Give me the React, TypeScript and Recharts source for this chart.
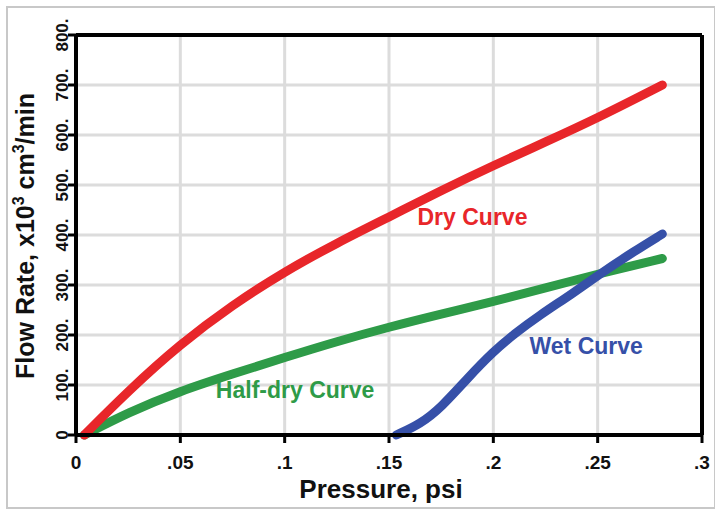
import React from "react";
import {
  LineChart,
  Line,
  XAxis,
  YAxis,
  CartesianGrid,
  ReferenceLine,
  ReferenceDot,
  Label,
} from "recharts";

const xTicks = [0, 0.05, 0.1, 0.15, 0.2, 0.25, 0.3];
const xTickLabels = ["0", ".05", ".1", ".15", ".2", ".25", ".3"];
const yTicks = [0, 100, 200, 300, 400, 500, 600, 700, 800];
const yTickLabels = ["0", "100.", "200.", "300.", "400.", "500.", "600.", "700.", "800."];

const dryCurve = [
  { p: 0.004, q: 0 },
  { p: 0.025, q: 88 },
  { p: 0.05, q: 182 },
  { p: 0.075, q: 260 },
  { p: 0.1, q: 327 },
  { p: 0.125, q: 384 },
  { p: 0.15, q: 436 },
  { p: 0.175, q: 489 },
  { p: 0.2, q: 539 },
  { p: 0.225, q: 586 },
  { p: 0.25, q: 634 },
  { p: 0.281, q: 700 },
];

const halfDryCurve = [
  { p: 0.004, q: 0 },
  { p: 0.025, q: 45 },
  { p: 0.05, q: 88 },
  { p: 0.075, q: 122 },
  { p: 0.1, q: 155 },
  { p: 0.125, q: 187 },
  { p: 0.15, q: 216 },
  { p: 0.175, q: 242 },
  { p: 0.2, q: 267 },
  { p: 0.225, q: 294 },
  { p: 0.25, q: 322 },
  { p: 0.281, q: 353 },
];

const wetCurve = [
  { p: 0.1535, q: 0 },
  { p: 0.165, q: 22 },
  { p: 0.175, q: 55 },
  { p: 0.1875, q: 113 },
  { p: 0.2, q: 167 },
  { p: 0.21, q: 202 },
  { p: 0.222, q: 239 },
  { p: 0.238, q: 283 },
  { p: 0.251, q: 322 },
  { p: 0.267, q: 366 },
  { p: 0.281, q: 402 },
];

const RED = "#e8262a";
const GREEN = "#2e9b48";
const BLUE = "#3650a8";
const FONT = "'Liberation Sans', Arial, sans-serif";

const XTick = ({ x, y, payload }: any) => {
  const i = xTicks.indexOf(payload.value);
  return (
    <text x={x} y={y + 24} textAnchor="middle" fontFamily={FONT} fontWeight="bold" fontSize={19} fill="#111">
      {xTickLabels[i]}
    </text>
  );
};

const YTick = ({ x, y, payload }: any) => {
  const i = yTicks.indexOf(payload.value);
  const bx = x + 2;
  return (
    <text
      x={bx}
      y={y}
      transform={`rotate(-90, ${bx}, ${y})`}
      textAnchor="middle"
      fontFamily={FONT}
      fontWeight="bold"
      fontSize={17}
      fill="#111"
    >
      {yTickLabels[i]}
    </text>
  );
};

const YTitle = ({ viewBox }: any) => {
  const cx = 34;
  const cy = viewBox.y + viewBox.height / 2 + 1;
  return (
    <text
      x={cx}
      y={cy}
      transform={`rotate(-90, ${cx}, ${cy})`}
      textAnchor="middle"
      fontFamily={FONT}
      fontWeight="bold"
      fontSize={25}
      fill="#111"
    >
      <tspan>Flow Rate, x10</tspan>
      <tspan dy={-10} fontSize={16}>3</tspan>
      <tspan dy={10}> cm</tspan>
      <tspan dy={-10} fontSize={16}>3</tspan>
      <tspan dy={10}>/min</tspan>
    </text>
  );
};

const labelStyle = { fontFamily: FONT, fontWeight: "bold", fontSize: 23 };

export default function App() {
  return (
    <div style={{ position: "absolute", left: 0, top: 0, width: 715, height: 509, background: "#fff" }}>
      <div
        style={{
          position: "absolute",
          left: 6,
          top: 6,
          width: 706,
          height: 499,
          border: "2px solid #c8c8c8",
        }}
      />
      <LineChart
        width={715}
        height={509}
        margin={{ top: 35, right: 13, left: 0, bottom: 0 }}
        style={{ position: "absolute", left: 0, top: 0 }}
      >
        <CartesianGrid stroke="#dcdcdc" strokeWidth={3} />
        <XAxis
          type="number"
          dataKey="p"
          domain={[0, 0.3]}
          ticks={xTicks}
          interval={0}
          allowDuplicatedCategory={false}
          height={74}
          axisLine={{ stroke: "#000", strokeWidth: 4 }}
          tickLine={{ stroke: "#000", strokeWidth: 3 }}
          tickSize={8}
          tick={<XTick />}
        >
          <Label
            value="Pressure, psi"
            position="insideBottom"
            offset={11}
            dx={-8}
            style={{ fontFamily: FONT, fontWeight: "bold", fontSize: 26, fill: "#111" }}
          />
        </XAxis>
        <YAxis
          type="number"
          dataKey="q"
          domain={[0, 800]}
          ticks={yTicks}
          interval={0}
          width={76}
          axisLine={{ stroke: "#000", strokeWidth: 4 }}
          tickLine={{ stroke: "#000", strokeWidth: 3 }}
          tickSize={8}
          tick={<YTick />}
        >
          <Label content={<YTitle />} />
        </YAxis>
        <ReferenceLine y={800} stroke="#000" strokeWidth={4} />
        <ReferenceLine x={0.3} stroke="#000" strokeWidth={4} />
        <Line
          data={halfDryCurve}
          dataKey="q"
          type="basis"
          stroke={GREEN}
          strokeWidth={9}
          strokeLinecap="round"
          dot={false}
          isAnimationActive={false}
        />
        <Line
          data={wetCurve}
          dataKey="q"
          type="basis"
          stroke={BLUE}
          strokeWidth={9}
          strokeLinecap="round"
          dot={false}
          isAnimationActive={false}
        />
        <Line
          data={dryCurve}
          dataKey="q"
          type="basis"
          stroke={RED}
          strokeWidth={9}
          strokeLinecap="round"
          dot={false}
          isAnimationActive={false}
        />
        <ReferenceDot x={0.19} y={436} r={0} stroke="none" fill="none">
          <Label value="Dry Curve" position="center" style={{ ...labelStyle, fill: RED }} />
        </ReferenceDot>
        <ReferenceDot x={0.105} y={90} r={0} stroke="none" fill="none">
          <Label value="Half-dry Curve" position="center" style={{ ...labelStyle, fill: GREEN }} />
        </ReferenceDot>
        <ReferenceDot x={0.2445} y={179} r={0} stroke="none" fill="none">
          <Label value="Wet Curve" position="center" style={{ ...labelStyle, fill: BLUE }} />
        </ReferenceDot>
      </LineChart>
    </div>
  );
}
